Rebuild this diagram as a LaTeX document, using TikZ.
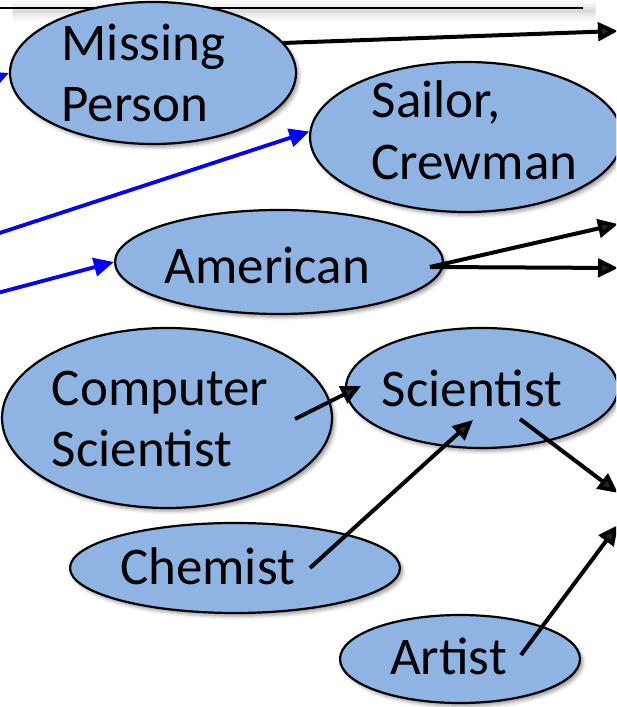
\documentclass[tikz,border=0pt]{standalone}
\usepackage{fontspec}
\setmainfont{Carlito}
\usetikzlibrary{shapes.geometric,arrows.meta,calc,shadows.blur}

\definecolor{r142g180b227}{rgb}{0.556863,0.705882,0.890196}%
\definecolor{r0g0b255}{rgb}{0.000000,0.000000,1.000000}%

\tikzset{
  blob/.style={ellipse, draw, line width=0.055000cm, fill=r142g180b227,
    blur shadow={shadow xshift=0.070000cm, shadow yshift=-0.080000cm,
      shadow blur radius=0.090000cm, shadow opacity=40}},
  word/.style={align=left, inner sep=0pt},
  arr/.style={-{Triangle[length=0.500000cm,width=0.460000cm]}, line width=0.100000cm},
  barr/.style={arr, draw=r0g0b255, line width=0.095000cm}
}

\begin{document}
\begin{tikzpicture}
            \useasboundingbox (0,0) rectangle (15.400000,17.675000);
            \clip (0,0) rectangle (15.400000,17.675000);
            {\fontsize{37.7pt}{44pt}\selectfont

            % Drawing rule at top
            \draw [line width=0.050000cm, blur shadow={shadow yshift=-0.080000cm, shadow opacity=30}] (0.000000,17.475000) -- (14.575000,17.475000);%

            % Drawing ellipses
            \node [blob, minimum width=7.150000cm, minimum height=3.550000cm] (mp) at (3.825000,15.850000) {};%
            \node [blob, minimum width=7.800000cm, minimum height=3.750000cm] (sailor) at (11.650000,14.250000) {};%
            \node [blob, minimum width=8.200000cm, minimum height=2.600000cm] (american) at (6.975000,11.125000) {};%
            \node [blob, minimum width=8.250000cm, minimum height=4.500000cm] (cs) at (4.175000,7.225000) {};%
            \node [blob, minimum width=6.800000cm, minimum height=3.000000cm] (sci) at (12.050000,7.975000) {};%
            \node [blob, minimum width=8.250000cm, minimum height=2.250000cm] (chem) at (5.875000,3.475000) {};%
            \node [blob, minimum width=6.000000cm, minimum height=2.200000cm] (artist) at (11.500000,1.200000) {};%

            % Marking labels
            \node [word] (mptext) at (3.587500,15.850000) {Missing\\Person};%
            \node [word] (sailortext) at (11.862500,14.425000) {Sailor,\\Crewman};%
            \node [word] (americantext) at (6.687500,11.050000) {American};%
            \node [word] (cstext) at (4.000000,7.200000) {Computer\\Scientist};%
            \node [word] (scitext) at (11.800000,7.975000) {Scientist};%
            \node [word] (chemtext) at (5.187500,3.525000) {Chemist};%
            \node [word] (artisttext) at (11.212500,1.262500) {Artist};%

            % Loose ends outside the frame
            \coordinate (inmp) at (-1.000000,15.350000);%
            \coordinate (insailor) at (-1.000000,11.525000);%
            \coordinate (inam) at (-1.000000,10.100000);%
            \coordinate (incs) at (-1.000000,7.225000);%
            \coordinate (outmp) at (15.450000,16.900000);%
            \coordinate (outam1) at (15.450000,12.075000);%
            \coordinate (outam2) at (15.450000,10.975000);%
            \coordinate (outsci) at (15.450000,5.350000);%
            \coordinate (outart) at (15.450000,4.550000);%

            % Drawing blue arrows coming in
            \draw [barr] (inmp) -- (mp.west);%
            \draw [barr] (insailor) -- (sailor.178);%
            \draw [barr] (inam) -- (american.west);%
            \draw [barr] (incs) -- (cs.west);%

            % Drawing black arrows
            \draw [arr] ($(mp)+(3.250000,0.750000)$) -- (outmp);%
            \draw [arr] ($(american)+(3.775000,-0.125000)$) -- (outam1);%
            \draw [arr] ($(american)+(3.775000,-0.125000)$) -- (outam2);%
            \draw [arr] ($(cs)+(3.200000,-0.025000)$) -- ($(sci)+(-3.025000,0.050000)$);%
            \draw [arr] ($(chem)+(1.875000,0.000000)$) -- ($(sci)+(-0.225000,-0.800000)$);%
            \draw [arr] ($(sci)+(0.950000,-0.775000)$) -- (outsci);%
            \draw [arr] ($(artist)+(1.525000,0.100000)$) -- (outart);%
            }
\end{tikzpicture}
\end{document}
